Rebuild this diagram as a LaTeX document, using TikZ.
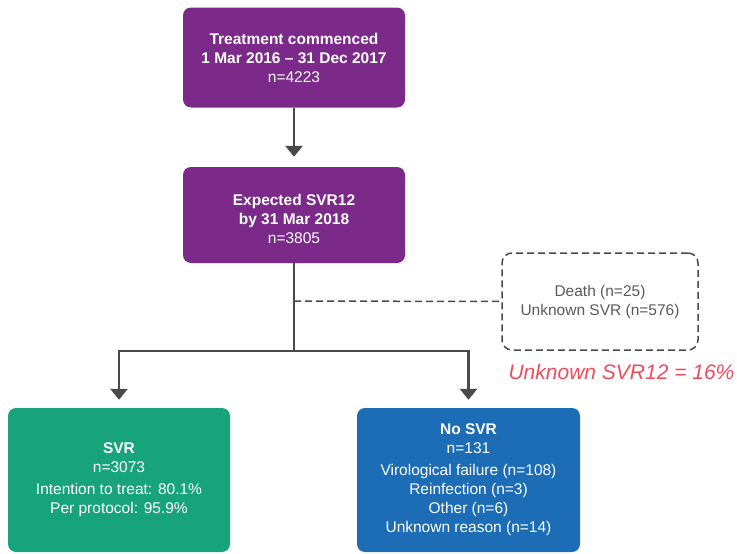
\documentclass[tikz,border=0pt]{standalone}
\usepackage{fontspec}
\setmainfont{Liberation Sans}
\usetikzlibrary{arrows.meta}
\definecolor{purp}{HTML}{7B2A89}
\definecolor{grn}{HTML}{18A47A}
\definecolor{blu}{HTML}{1C6DB6}
\definecolor{lin}{HTML}{4A4A4A}
\definecolor{gtx}{HTML}{5A5A5A}
\definecolor{redt}{HTML}{EC4C5C}
\begin{document}
\begin{tikzpicture}[x=1pt,y=-1pt,
  box/.style={rounded corners=8pt,text=white,align=center,inner sep=0pt,
    font=\fontsize{15.5}{19}\selectfont},
  txt/.style={text=white,align=center,inner sep=0pt,font=\fontsize{15.5}{19}\selectfont},
  conn/.style={draw=lin,line width=2.8pt},
  arr/.style={conn,-{Triangle[width=17pt,length=11pt]}},
  dashln/.style={draw=lin,line width=1.5pt,dash pattern=on 7pt off 4pt}
]
\useasboundingbox (0,0) rectangle (737,554);
\clip (0,0) rectangle (737,554);
\node[box,fill=purp,minimum width=222pt,minimum height=100pt] (b1) at (294,57.5)
  {\textbf{Treatment commenced}\\\textbf{1 Mar 2016 – 31 Dec 2017}\\n=4223};
\node[box,fill=purp,minimum width=222pt,minimum height=96pt] (b2) at (294,215) {};
\node[txt] (b2t) at (294,219)
  {\textbf{Expected SVR12}\\\textbf{by 31 Mar 2018}\\n=3805};
\node[box,fill=grn,minimum width=222pt,minimum height=144pt] (b3) at (119,480)
  {\textbf{SVR}\\n=3073\\[3pt]Intention to treat: 80.1\%\\Per protocol: 95.9\%};
\node[box,fill=blu,minimum width=223pt,minimum height=144pt] (b4) at (468.5,480)
  {\textbf{No SVR}\\n=131\\[3pt]Virological failure (n=108)\\Reinfection (n=3)\\Other (n=6)\\Unknown reason (n=14)};
\node[rounded corners=10pt,dashln,text=gtx,align=center,inner sep=0pt,
  minimum width=196pt,minimum height=97pt,font=\fontsize{15.5}{19}\selectfont]
  (lost) at (600,301.5) {Death (n=25)\\Unknown SVR (n=576)};
\node[text=redt,font=\fontsize{21}{25}\selectfont\itshape,anchor=center] (pct) at (621.5,372)
  {Unknown SVR12 = 16\%};
\coordinate (j1) at (294,301);
\coordinate (j2) at (294,351);
\draw[arr,shorten >=10pt] (b1.south) -- (b2.north);
\draw[conn] (b2.south) -- (j2);
\draw[arr,shorten >=8pt] (j2) -| (b3.north);
\draw[arr,shorten >=8pt] (j2) -| (b4.north);
\draw[dashln] (j1) -- (lost.west);
\end{tikzpicture}
\end{document}
